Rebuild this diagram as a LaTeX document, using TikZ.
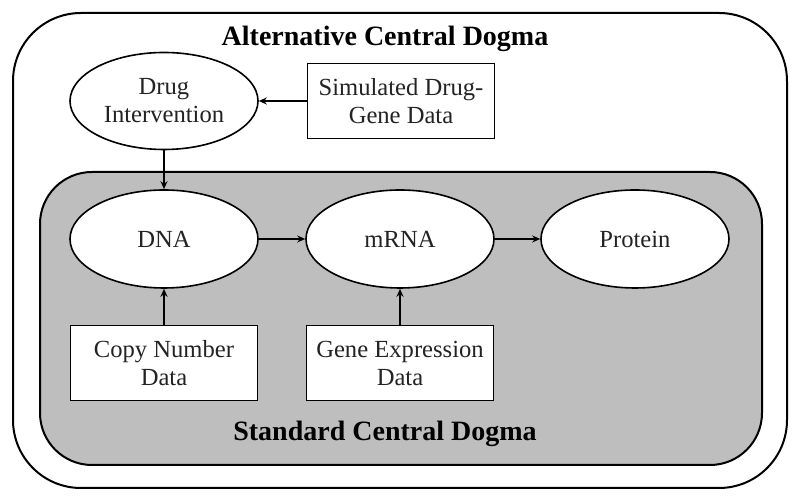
\documentclass[tikz,border=0pt]{standalone}
\usepackage{fontspec}
\setmainfont{Liberation Serif}
\usetikzlibrary{arrows.meta,shapes.geometric}
\definecolor{panelgray}{RGB}{190,190,190}
\definecolor{inkc}{RGB}{35,35,35}
\begin{document}
\begin{tikzpicture}[x=0.5pt,y=-0.5pt,
  txt/.style={font=\fontsize{12.3}{14}\selectfont, text=inkc, align=center},
  ell/.style={txt, ellipse, draw, line width=0.8pt, fill=white, minimum width=94pt, minimum height=48.5pt, inner sep=0pt},
  box/.style={txt, rectangle, draw, line width=0.8pt, fill=white, minimum width=93.5pt, minimum height=37.5pt, inner sep=0pt},
  arr/.style={-{Stealth[length=4pt,width=3.5pt]}, line width=0.7pt},
  ttl/.style={font=\fontsize{14}{16}\selectfont\bfseries, text=black}]
\useasboundingbox (0,0) rectangle (800,501);
% containers
\draw[line width=1pt, rounded corners=34pt] (13,13) rectangle (787,488);
\draw[line width=1pt, fill=panelgray, rounded corners=26pt] (40,172) rectangle (762,465);
% titles
\node[ttl] (alt) at (385,39) {Alternative Central Dogma};
\node[ttl] (std) at (385,434) {Standard Central Dogma};
% nodes
\node[ell] (drug) at (164,101) {Drug\\Intervention};
\node[box] (sim) at (401,101) {Simulated Drug-\\Gene Data};
\node[ell, minimum height=49pt] (dna) at (164,239) {DNA};
\node[ell, minimum height=49pt] (mrna) at (400,239) {mRNA};
\node[ell, minimum height=49pt] (protein) at (635,239) {Protein};
\node[box] (cn) at (164,363) {Copy Number\\Data};
\node[box] (ge) at (400,363) {Gene Expression\\Data};
% connectors
\draw[arr] (sim.west) -- (drug.east);
\draw[arr] (drug.south) -- (dna.north);
\draw[arr] (dna.east) -- (mrna.west);
\draw[arr] (mrna.east) -- (protein.west);
\draw[arr] (cn.north) -- (dna.south);
\draw[arr] (ge.north) -- (mrna.south);
\end{tikzpicture}
\end{document}
